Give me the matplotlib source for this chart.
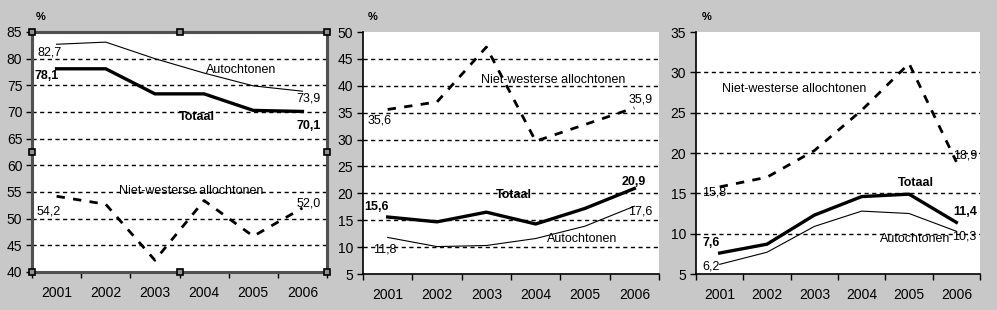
import matplotlib.pyplot as plt
from matplotlib.ticker import FixedLocator, NullFormatter

plt.rcParams['font.family'] = ['Liberation Sans', 'DejaVu Sans']

years = ['2001', '2002', '2003', '2004', '2005', '2006']

# panel 1
p1_autochtonen = [82.7, 83.1, 80.0, 77.3, 74.9, 73.9]
p1_totaal = [78.1, 78.1, 73.4, 73.4, 70.3, 70.1]
p1_nw = [54.2, 52.7, 42.2, 53.4, 46.7, 52.0]

# panel 2
p2_autochtonen = [11.8, 10.1, 10.3, 11.6, 13.9, 17.6]
p2_totaal = [15.6, 14.7, 16.5, 14.3, 17.2, 20.9]
p2_nw = [35.6, 37.0, 47.2, 29.7, 32.8, 35.9]

# panel 3
p3_autochtonen = [6.2, 7.7, 10.9, 12.8, 12.5, 10.3]
p3_totaal = [7.6, 8.7, 12.3, 14.6, 14.9, 11.4]
p3_nw = [15.8, 17.0, 20.3, 25.3, 31.1, 18.9]

BG = '#c8c8c8'

fig = plt.figure(figsize=(9.97, 3.10), dpi=100, facecolor=BG)

axes_pos = [
    [0.0321, 0.1226, 0.2959, 0.7742],
    [0.3641, 0.1161, 0.2969, 0.7806],
    [0.6981, 0.1161, 0.2849, 0.7806],
]
ylims = [(40, 85), (5, 50), (5, 35)]
series = [
    (p1_autochtonen, p1_totaal, p1_nw),
    (p2_autochtonen, p2_totaal, p2_nw),
    (p3_autochtonen, p3_totaal, p3_nw),
]

# (text, x, y, bold)
labels = [
    [('82,7', -0.38, 81.1, False), ('78,1', -0.44, 76.75, True),
     ('Autochtonen', 3.03, 77.9, False), ('73,9', 4.87, 72.6, False),
     ('Totaal', 2.48, 69.1, True), ('70,1', 4.87, 67.4, True),
     ('Niet-westerse allochtonen', 1.26, 55.2, False),
     ('54,2', -0.4, 51.4, False), ('52,0', 4.87, 52.9, False)],
    [('Niet-westerse allochtonen', 1.89, 41.1, False), ('35,9', 4.88, 37.5, False),
     ('35,6', -0.40, 33.5, False), ('20,9', 4.75, 22.1, True),
     ('Totaal', 2.2, 19.7, True), ('15,6', -0.48, 17.5, True),
     ('17,6', 4.88, 16.6, False), ('Autochtonen', 3.23, 11.5, False),
     ('11,8', -0.3, 9.6, False)],
    [('Niet-westerse allochtonen', 0.05, 27.9, False), ('18,9', 4.93, 19.75, False),
     ('15,8', -0.37, 15.1, False), ('Totaal', 3.77, 16.3, True),
     ('11,4', 4.93, 12.7, True), ('7,6', -0.37, 8.8, True),
     ('Autochtonen', 3.39, 9.3, False), ('10,3', 4.9, 9.6, False),
     ('6,2', -0.37, 5.9, False)],
]

pct_x = [0.036, 0.369, 0.704]

x = list(range(len(years)))

for i in range(3):
    ax = fig.add_axes(axes_pos[i])
    ax.set_facecolor('white')
    lo, hi = ylims[i]
    ax.set_xlim(-0.5, 5.5)
    ax.set_ylim(lo, hi)

    for yv in range(lo + 5, hi, 5):
        ax.axhline(yv, color='black', lw=1.0, linestyle=(0, (3, 2.5)), zorder=1)

    auto, tot, nw = series[i]
    ax.plot(x, auto, color='black', lw=0.8, zorder=3)
    ax.plot(x, tot, color='black', lw=2.4, zorder=4)
    ax.plot(x, nw, color='black', lw=2.0, linestyle=(0, (3, 3)), zorder=3)

    for txt, tx, ty, bold in labels[i]:
        ax.text(tx, ty, txt, fontsize=9, fontweight='bold' if bold else 'normal',
                ha='left', va='center', zorder=6)

    ax.set_yticks(range(lo, hi + 1, 5))
    ax.set_xticks(x)
    ax.set_xticklabels(years)
    ax.xaxis.set_minor_locator(FixedLocator([k - 0.5 for k in range(7)]))
    ax.xaxis.set_minor_formatter(NullFormatter())
    ax.tick_params(axis='x', which='major', length=0, pad=10, labelsize=10)
    ax.tick_params(axis='x', which='minor', length=4, width=1, direction='out', color='black')
    ax.tick_params(axis='y', length=4, width=1, pad=3, labelsize=10)

    if i == 0:
        # chart shown as selected: dotted frame with handles
        for s in ax.spines.values():
            s.set_linestyle((0, (0.6, 0.6)))
            s.set_linewidth(2.2)
            s.set_color('#505050')
        hx = [0, 0.5, 1, 1, 1, 0.5, 0, 0]
        hy = [0, 0, 0, 0.5, 1, 1, 1, 0.5]
        ax.plot(hx, hy, linestyle='none', marker='s', markersize=5,
                mfc='#909090', mec='black', mew=1.2,
                transform=ax.transAxes, clip_on=False, zorder=10)
    else:
        ax.spines['top'].set_visible(False)
        ax.spines['right'].set_visible(False)
        ax.spines['left'].set_linewidth(1.2)
        ax.spines['bottom'].set_linewidth(1.2)

    fig.text(pct_x[i], 0.945, '%', fontsize=8, fontweight='bold', ha='left', va='center')

fig.savefig('out.png', dpi=100, facecolor=BG)
